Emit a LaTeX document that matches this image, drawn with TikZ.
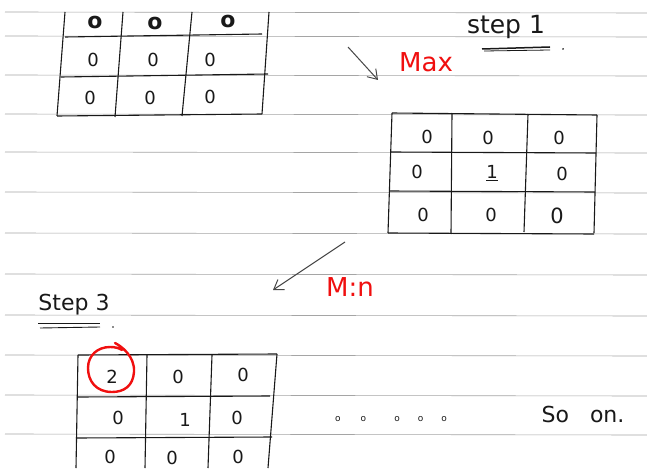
\documentclass[tikz,border=0pt]{standalone}
\usepackage{fontspec}
\setmainfont{DejaVu Sans}
\usetikzlibrary{arrows.meta}
\definecolor{ink}{RGB}{25,25,25}
\definecolor{rule}{RGB}{165,165,165}
\definecolor{pen}{RGB}{240,15,15}
\begin{document}
\begin{tikzpicture}[x=1pt,y=-1pt,
  paper/.style={draw=rule, line width=0.6pt},
  grid/.style={draw=ink, line width=1.1pt},
  cell/.style={inner sep=0pt, text=ink, font=\fontsize{18}{18}\selectfont},
  boldcell/.style={inner sep=0pt, text=ink, font=\fontsize{22}{22}\selectfont\bfseries},
  hand/.style={inner sep=0pt, text=ink, font=\fontsize{22}{22}\selectfont},
  redtxt/.style={inner sep=0pt, text=pen, font=\fontsize{26}{26}\selectfont},
  pointer/.style={draw=ink!80, line width=1pt, -{Straight Barb[length=9pt,width=12pt]}}]
\useasboundingbox (0,0) rectangle (647,468);
\fill[white] (0,0) rectangle (647,468);
% ruled paper
\foreach \y in {12,36,75,114,152,192,233,274,315,355,395,434}
  \draw[paper] (5,\y) -- (647,\y+1);
% ---- top table
\draw[grid] (65,12) -- (57,116);
\draw[grid] (123,12) -- (115,117);
\draw[grid] (192,12) -- (182,116);
\draw[grid] (269,12) -- (262,114);
\draw[grid] (65,37) -- (262,34);
\draw[grid] (61,77) -- (268,74);
\draw[grid] (57,116) -- (262,114);
\node[boldcell] (t11) at (95,22) {o};
\node[boldcell] (t12) at (155,23) {o};
\node[boldcell] (t13) at (228,21) {o};
\node[cell] (t21) at (93,60) {0};
\node[cell] (t22) at (153,60) {0};
\node[cell] (t23) at (210,60) {0};
\node[cell] (t31) at (90,98) {0};
\node[cell] (t32) at (150,98) {0};
\node[cell] (t33) at (210,97) {0};
% step 1
\node[hand, font=\fontsize{25}{25}\selectfont] (step1) at (506,27) {step 1};
\draw[ink, line width=1.5pt] (482,49) -- (550,47);
\draw[ink, line width=0.8pt] (484,51) -- (550,50);
\node[ink, circle, fill, inner sep=0.7pt] (dot1) at (563,49) {};
% Max arrow
\coordinate (m0) at (348,47);
\coordinate (m1) at (378,80);
\draw[pointer] (m0) -- (m1);
\node[redtxt] (max) at (426,62) {Max};
% ---- middle table
\draw[grid] (392,113) -- (388,233);
\draw[grid] (452,113) -- (451,234);
\draw[grid] (528,114) -- (524,232);
\draw[grid] (597,115) -- (594,233);
\draw[grid] (392,113) -- (597,115);
\draw[grid] (391,152) -- (596,153);
\draw[grid] (389,191) -- (595,192);
\draw[grid] (388,233) -- (594,234);
\node[cell] (m11) at (427,137) {0};
\node[cell] (m12) at (488,138) {0};
\node[cell] (m13) at (559,138) {0};
\node[cell] (m21) at (417,172) {0};
\node[cell] (m22) at (492,173) {\underline{1}};
\node[cell] (m23) at (562,174) {0};
\node[cell] (m31) at (423,215) {0};
\node[cell] (m32) at (491,215) {0};
\node[cell, font=\fontsize{21}{21}\selectfont] (m33) at (557,216) {0};
% Min arrow
\coordinate (n0) at (345,242);
\coordinate (n1) at (273,290);
\draw[pointer] (n0) -- (n1);
\node[redtxt] (min) at (350,287) {M:n};
% step 3
\node[hand] (step3) at (74,305) {Step 3};
\draw[ink, line width=0.9pt] (38,323) -- (100,323);
\draw[ink, line width=0.9pt] (40,328) -- (100,327);
\node[ink, circle, fill, inner sep=0.7pt] (dot3) at (113,327) {};
% ---- bottom table
\draw[grid] (78,355) -- (76,468);
\draw[grid] (147,355) -- (145,468);
\draw[grid] (212,355) -- (208,468);
\draw[grid] (277,354) -- (268,468);
\draw[grid] (78,355) -- (277,354);
\draw[grid] (78,397) -- (270,396);
\draw[grid] (76,438) -- (272,437);
\node[cell] (b11) at (112,377) {2};
\draw[pen, line width=2.4pt, line cap=round] (115,343) .. controls (121,346) and (135,356) .. (134,372)
  .. controls (133,386) and (124,392) .. (112,392)
  .. controls (96,392) and (88,381) .. (88,368)
  .. controls (88,355) and (98,347) .. (110,347)
  .. controls (115,347) and (119,348) .. (122,350);
\node[cell] (b12) at (178,377) {0};
\node[cell] (b13) at (243,375) {0};
\node[cell] (b21) at (118,418) {0};
\node[cell] (b22) at (185,420) {1};
\node[cell] (b23) at (237,418) {0};
\node[cell] (b31) at (110,457) {0};
\node[cell] (b32) at (172,458) {0};
\node[cell] (b33) at (238,457) {0};
% so on
\node[cell, font=\fontsize{9}{9}\selectfont] (dots) at (391,419) {o\hspace{20pt}o\hspace{28pt}o\hspace{18pt}o\hspace{18pt}o};
\node[hand] (soon) at (583,414) {So\ \ \ on.};
\end{tikzpicture}
\end{document}
